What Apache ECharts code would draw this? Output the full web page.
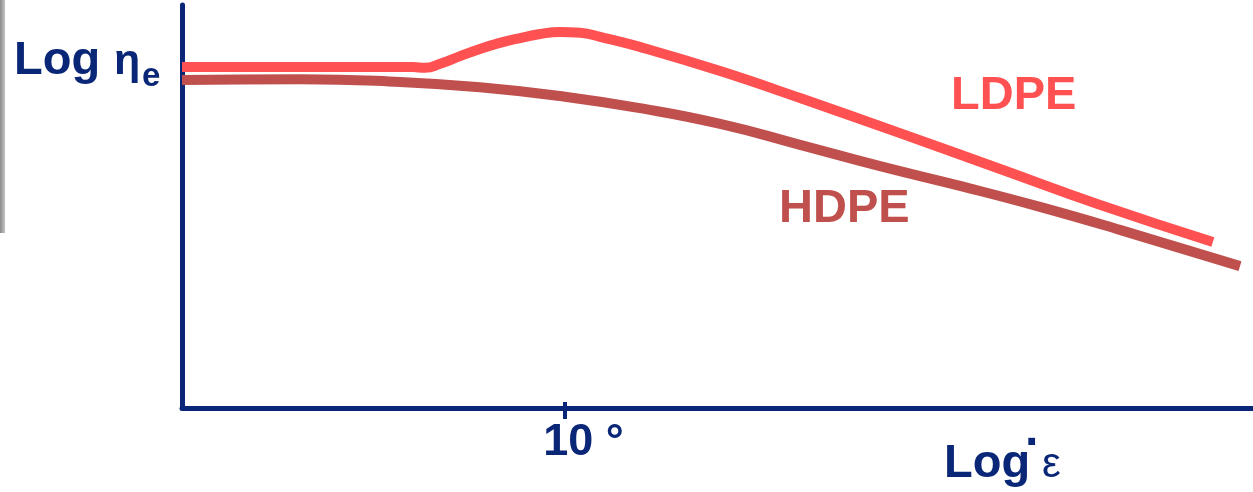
<!DOCTYPE html>
<html>
<head>
<meta charset="utf-8">
<script src="https://cdn.jsdelivr.net/npm/echarts@6/dist/echarts.min.js"></script>
<style>
  html, body { margin: 0; padding: 0; background: #ffffff; }
  #chart { width: 1253px; height: 492px; }
</style>
</head>
<body>
<div id="chart"></div>
<script>
// ---- data (x in decades relative to 10°, y in relative log-viscosity units) ----
var ldpeX = [-1.000, -0.692, -0.396, -0.365, -0.325, -0.273, -0.221, -0.169, -0.116, -0.064, -0.012, 0.041, 0.093, 0.197, 0.407, 0.616, 0.877, 1.139, 1.400, 1.695];
var ldpeY = [84.6, 84.6, 84.6, 84.4, 85.4, 87.3, 89.1, 90.6, 91.8, 92.8, 93.3, 93.1, 92.1, 89.6, 83.6, 76.9, 68.2, 59.3, 50.4, 41.2];
var hdpeX = [-1.000, -0.692, -0.430, -0.221, -0.012, 0.197, 0.407, 0.616, 0.825, 1.034, 1.243, 1.452, 1.766];
var hdpeY = [81.4, 81.6, 80.9, 79.6, 77.4, 74.4, 70.5, 65.3, 60.0, 55.1, 49.9, 44.2, 35.2];
var tickValues = [0];
var tickLabels = ['10'];
var seriesNames = ['LDPE', 'HDPE'];

var navy = '#0a2677';
var cLDPE = '#ff5151';
var cHDPE = '#c0504d';
var fontFam = 'Liberation Sans, Arial, sans-serif';

function pairs(xs, ys) { return xs.map(function (x, i) { return [x, ys[i]]; }); }

var chart = echarts.init(document.getElementById('chart'), null, { renderer: 'canvas' });
chart.setOption({
  animation: false,
  backgroundColor: '#ffffff',
  grid: { left: 182, right: 0, top: 5, bottom: 84 },
  xAxis: [{
    type: 'value', min: -1, max: 1.8,
    axisLine: { show: true, onZero: false, lineStyle: { color: navy, width: 5 } },
    axisTick: { show: true, customValues: tickValues, length: 11, lineStyle: { color: navy, width: 4 } },
    axisLabel: {
      show: true, customValues: tickValues, margin: 13,
      formatter: function (v) { var i = tickValues.indexOf(v); return '{l|}{n|' + tickLabels[i] + '}{d| °}'; },
      rich: {
        l: { width: 38, height: 44 },
        n: { fontSize: 45, fontWeight: 'bold', fontFamily: fontFam, color: navy, lineHeight: 44 },
        d: { fontSize: 45, fontWeight: 'bold', fontFamily: fontFam, color: navy, lineHeight: 44 }
      }
    },
    splitLine: { show: false }
  }, {
    type: 'value', min: -1, max: 1.8, position: 'bottom',
    axisLine: { show: false, onZero: false },
    axisTick: { show: true, inside: true, customValues: tickValues, length: 6, lineStyle: { color: navy, width: 4 } },
    axisLabel: { show: false },
    splitLine: { show: false }
  }],
  yAxis: {
    type: 'value', min: 0, max: 100,
    axisLine: { show: true, onZero: false, lineStyle: { color: navy, width: 5 } },
    axisTick: { show: false },
    axisLabel: { show: false },
    splitLine: { show: false }
  },
  series: [{
    name: seriesNames[1], type: 'line', data: pairs(hdpeX, hdpeY),
    smooth: 0.5, showSymbol: false, symbol: 'none',
    lineStyle: { color: cHDPE, width: 10, cap: 'butt' }, z: 3
  }, {
    name: seriesNames[0], type: 'line', data: pairs(ldpeX, ldpeY),
    smooth: 0.5, showSymbol: false, symbol: 'none',
    lineStyle: { color: cLDPE, width: 10, cap: 'butt' }, z: 4
  }],
  graphic: [
    { type: 'rect', left: 0, top: 0, shape: { width: 5, height: 233 },
      style: { fill: new echarts.graphic.LinearGradient(0, 0, 1, 0, [{ offset: 0, color: '#8a8a8a' }, { offset: 1, color: '#c4c4c4' }]) } },
    { type: 'text', x: 14, y: 61, style: { text: 'Log', fontSize: 47, fontWeight: 'bold', fontFamily: fontFam, fill: navy, align: 'left', verticalAlign: 'middle' } },
    { type: 'text', x: 114, y: 62, style: { text: 'η', fontSize: 43, fontWeight: 'bold', fontFamily: fontFam, fill: navy, align: 'left', verticalAlign: 'middle' } },
    { type: 'text', x: 142, y: 77, style: { text: 'e', fontSize: 33, fontWeight: 'bold', fontFamily: fontFam, fill: navy, align: 'left', verticalAlign: 'middle' } },
    { type: 'text', x: 951, y: 96, style: { text: seriesNames[0], fontSize: 47, fontWeight: 'bold', fontFamily: fontFam, fill: cLDPE, align: 'left', verticalAlign: 'middle' } },
    { type: 'text', x: 779, y: 209, style: { text: seriesNames[1], fontSize: 47, fontWeight: 'bold', fontFamily: fontFam, fill: cHDPE, align: 'left', verticalAlign: 'middle' } },
    { type: 'text', x: 944, y: 464, style: { text: 'Log', fontSize: 47, fontWeight: 'bold', fontFamily: fontFam, fill: navy, align: 'left', verticalAlign: 'middle' } },
    { type: 'text', x: 1033, y: 445, style: { text: '·', fontSize: 48, fontWeight: 'bold', fontFamily: fontFam, fill: navy, align: 'center', verticalAlign: 'middle' } },
    { type: 'text', x: 1042, y: 465, style: { text: 'ε', fontSize: 42, fontWeight: 'normal', fontFamily: fontFam, fill: navy, align: 'left', verticalAlign: 'middle' } }
  ]
});
</script>
</body>
</html>
